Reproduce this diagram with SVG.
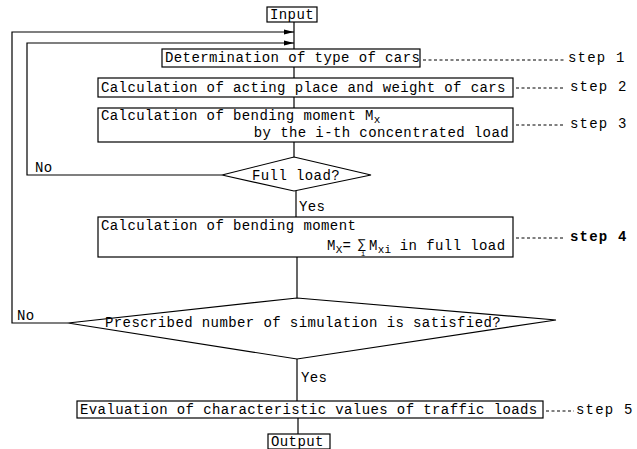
<svg xmlns="http://www.w3.org/2000/svg" width="637" height="449" viewBox="0 0 637 449">
<defs>
<marker id="arr" markerWidth="10" markerHeight="6" refX="10" refY="3" orient="auto" markerUnits="userSpaceOnUse">
<path d="M0,0.5 L10,3 L0,5.5 Z" fill="#000"/>
</marker>
<style>
.box{fill:#fff;stroke:#000;stroke-width:1.2}
.ln{fill:none;stroke:#000;stroke-width:1.2}
.dash{fill:none;stroke:#000;stroke-width:1;stroke-dasharray:3,2.5}
.t{font-family:"Liberation Mono","Courier New",monospace;font-size:14px;letter-spacing:0.4px;fill:#000}
.s{font-family:"Liberation Mono","Courier New",monospace;font-size:14px;letter-spacing:1.2px;fill:#000}
.sub{font-size:11px;letter-spacing:0}
.sig{font-size:13px;letter-spacing:0}
.tiny{font-size:7px;letter-spacing:0}
</style>
</defs>
<rect width="637" height="449" fill="#fff"/>
<g id="connectors">
<line class="ln" x1="294" y1="22" x2="294" y2="49"/>
<line class="ln" x1="294" y1="67" x2="294" y2="78"/>
<line class="ln" x1="294" y1="97" x2="294" y2="108"/>
<line class="ln" x1="294" y1="142" x2="294" y2="157"/>
<line class="ln" x1="296" y1="191" x2="296" y2="217"/>
<line class="ln" x1="297" y1="257" x2="297" y2="298"/>
<line class="ln" x1="297" y1="359" x2="297" y2="401"/>
<line class="ln" x1="298" y1="418" x2="298" y2="434"/>
<polyline class="ln" points="222,175 27,175 27,43 294,43" marker-end="url(#arr)"/>
<polyline class="ln" points="68,323 12,323 12,32 294,32" marker-end="url(#arr)"/>
<text class="t" x="35" y="172">No</text>
<text class="t" x="17" y="320">No</text>
<text class="t" x="299" y="211">Yes</text>
<text class="t" x="301" y="382">Yes</text>
</g>
<g id="input">
<rect class="box" x="267" y="7" width="50" height="15"/>
<text class="t" x="270" y="19">Input</text>
</g>
<g id="step1">
<rect class="box" x="162" y="49" width="258" height="18"/>
<text class="t" x="165" y="62">Determination of type of cars</text>
<line class="dash" x1="423" y1="60" x2="565" y2="60"/>
<text class="s" x="568" y="62">step 1</text>
</g>
<g id="step2">
<rect class="box" x="98" y="78" width="415" height="19"/>
<text class="t" x="101" y="92">Calculation of acting place and weight of cars</text>
<line class="dash" x1="516" y1="88" x2="565" y2="88"/>
<text class="s" x="570" y="91">step 2</text>
</g>
<g id="step3">
<rect class="box" x="98" y="108" width="415" height="34"/>
<text class="t" x="101" y="120">Calculation of bending moment M<tspan class="sub" dy="3">x</tspan></text>
<text class="t" x="509" y="137" text-anchor="end">by the i-th concentrated load</text>
<line class="dash" x1="516" y1="125" x2="565" y2="125"/>
<text class="s" x="570" y="128">step 3</text>
</g>
<g id="fullload">
<polygon class="box" points="294,157 371,175 294,191 222,175"/>
<text class="t" x="296" y="180" text-anchor="middle">Full load?</text>
</g>
<g id="step4">
<rect class="box" x="98" y="217" width="415" height="40"/>
<text class="t" x="101" y="230">Calculation of bending moment</text>
<text class="t" x="327" y="250">M<tspan class="sub" dy="3">X</tspan><tspan dy="-3">=</tspan><tspan class="sig" x="358" y="248">∑</tspan><tspan class="tiny" x="361" y="256">i</tspan><tspan x="369" y="250">M</tspan><tspan class="sub" dy="3">xi</tspan><tspan dy="-3"> in full load</tspan></text>
<line class="dash" x1="516" y1="238" x2="565" y2="238"/>
<text class="s" x="570" y="241" font-weight="bold">step 4</text>
</g>
<g id="prescribed">
<polygon class="box" points="297,298 556,320 297,359 68,323"/>
<text class="t" x="105" y="327">Prescribed number of simulation is satisfied?</text>
</g>
<g id="step5">
<rect class="box" x="77" y="401" width="466" height="17"/>
<text class="t" x="80" y="414">Evaluation of characteristic values of traffic loads</text>
<line class="dash" x1="546" y1="411" x2="574" y2="411"/>
<text class="s" x="576" y="414">step 5</text>
</g>
<g id="output">
<rect class="box" x="268" y="434" width="62" height="15"/>
<text class="t" x="271" y="446">Output</text>
</g>
</svg>
